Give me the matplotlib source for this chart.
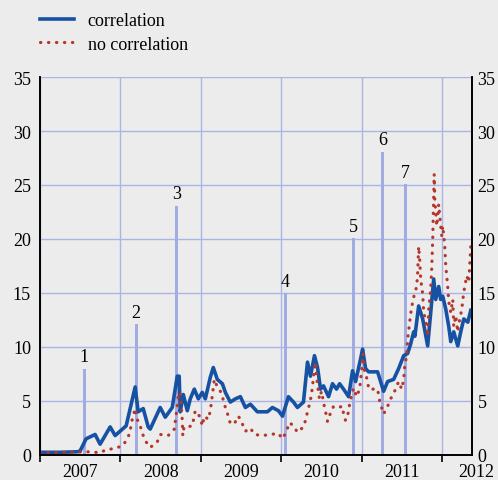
import numpy as np
import matplotlib
matplotlib.use("Agg")
import matplotlib.pyplot as plt
import matplotlib.transforms as mtransforms

plt.rcParams['font.family'] = ['Liberation Serif', 'DejaVu Serif']

# correlation series (decimal year offset from 2007, value)
corr_t = [0.0, 0.25, 0.47, 0.50, 0.573, 0.685, 0.747, 0.872, 0.934, 1.071, 1.183, 1.220,
          1.283, 1.345, 1.370, 1.494, 1.557, 1.644, 1.706, 1.730, 1.743, 1.781, 1.831,
          1.868, 1.918, 1.968, 2.017, 2.055, 2.117, 2.154, 2.204, 2.267, 2.304, 2.366,
          2.428, 2.491, 2.553, 2.615, 2.665, 2.702, 2.827, 2.889, 2.964, 3.014, 3.088,
          3.151, 3.200, 3.275, 3.325, 3.362, 3.412, 3.450, 3.487, 3.524, 3.587, 3.636,
          3.686, 3.724, 3.773, 3.836, 3.885, 3.923, 3.985, 4.010, 4.047, 4.085, 4.197,
          4.271, 4.321, 4.396, 4.458, 4.521, 4.570, 4.608, 4.645, 4.660, 4.707, 4.757,
          4.819, 4.857, 4.894, 4.919, 4.956, 4.981, 5.006, 5.044, 5.081, 5.106, 5.143,
          5.193, 5.230, 5.268, 5.318, 5.355]
corr_v = [0.25, 0.25, 0.3, 0.4, 1.5, 1.9, 1.0, 2.6, 1.8, 2.7, 6.3, 4.0,
          4.3, 2.6, 2.4, 4.4, 3.5, 4.4, 7.3, 7.3, 4.0, 5.6, 4.1,
          5.2, 6.1, 5.2, 5.8, 5.2, 7.2, 8.1, 7.0, 6.6, 5.8, 4.9,
          5.2, 5.4, 4.4, 4.7, 4.3, 4.0, 4.0, 4.4, 4.1, 3.6, 5.4,
          4.9, 4.4, 4.9, 8.6, 7.3, 9.2, 8.1, 6.1, 6.4, 5.4, 6.6,
          6.1, 6.6, 6.1, 5.4, 7.8, 6.8, 8.9, 9.8, 8.0, 7.7, 7.7,
          5.9, 6.8, 7.0, 8.0, 9.2, 9.4, 10.3, 11.4, 11.0, 13.8, 12.6,
          10.1, 13.2, 16.3, 14.4, 15.6, 14.4, 14.7, 13.5, 11.9, 10.5, 11.4,
          10.1, 11.4, 12.6, 12.3, 13.4]

# no correlation series
nocorr_t = [0.0, 0.635, 0.747, 0.822, 0.934, 1.034, 1.083, 1.121, 1.133, 1.183, 1.196,
            1.245, 1.283, 1.320, 1.370, 1.457, 1.494, 1.594, 1.669, 1.694, 1.706, 1.719,
            1.743, 1.768, 1.775, 1.790, 1.831, 1.893, 1.930, 1.993, 2.017, 2.042, 2.092,
            2.117, 2.142, 2.167, 2.204, 2.242, 2.267, 2.304, 2.341, 2.366, 2.416, 2.466,
            2.503, 2.553, 2.615, 2.665, 2.765, 2.864, 2.964, 3.014, 3.064, 3.101, 3.151,
            3.200, 3.275, 3.300, 3.325, 3.350, 3.375, 3.387, 3.412, 3.425, 3.437, 3.462,
            3.474, 3.499, 3.537, 3.562, 3.574, 3.611, 3.649, 3.699, 3.761, 3.773, 3.798,
            3.836, 3.848, 3.873, 3.898, 3.935, 3.973, 4.000, 4.015, 4.035, 4.072, 4.085,
            4.197, 4.222, 4.259, 4.271, 4.321, 4.359, 4.408, 4.458, 4.496, 4.521, 4.533,
            4.558, 4.570, 4.595, 4.608, 4.633, 4.645, 4.682, 4.695, 4.707, 4.720, 4.732,
            4.757, 4.770, 4.795, 4.819, 4.832, 4.857, 4.869, 4.882, 4.890, 4.900, 4.907,
            4.932, 4.944, 4.956, 4.981, 4.994, 5.006, 5.031, 5.044, 5.068, 5.081, 5.106,
            5.131, 5.143, 5.168, 5.193, 5.205, 5.243, 5.268, 5.305, 5.330, 5.355]
nocorr_v = [0.2, 0.3, 0.2, 0.5, 0.6, 0.9, 1.5, 2.1, 2.9, 4.3, 3.5,
            2.7, 1.8, 1.2, 0.7, 1.2, 1.9, 1.8, 2.4, 3.8, 4.5, 5.5,
            5.8, 3.3, 1.8, 2.6, 2.6, 2.7, 4.1, 3.5, 2.7, 3.6, 3.3,
            4.1, 5.5, 7.0, 6.3, 5.9, 5.4, 4.4, 3.6, 2.9, 2.9, 3.6,
            3.1, 2.2, 2.5, 1.9, 1.8, 1.9, 2.0, 1.5, 2.2, 3.0, 2.7,
            2.1, 2.6, 3.2, 4.0, 4.7, 5.6, 6.4, 8.0, 8.6, 7.3, 5.8,
            5.2, 5.9, 4.4, 3.6, 3.1, 3.9, 4.5, 4.4, 4.5, 3.8, 3.2,
            4.0, 4.7, 5.5, 6.2, 5.4, 6.1, 8.0, 9.4, 7.7, 6.9, 6.1,
            6.1, 5.0, 4.1, 3.8, 4.5, 5.2, 5.9, 6.8, 6.1, 7.0, 8.2,
            9.2, 10.7, 12.3, 13.1, 14.2, 14.6, 15.6, 16.9, 19.3, 18.1, 16.3,
            14.9, 13.2, 12.4, 11.0, 13.5, 15.4, 17.2, 20.0, 22.8, 26.0, 23.7,
            21.2, 22.1, 23.2, 21.2, 20.3, 21.2, 19.4, 17.5, 15.6, 14.2, 13.2,
            14.4, 11.9, 12.9, 11.4, 12.1, 13.5, 15.1, 16.6, 16.0, 19.3]

# event markers
event_labels = ['1', '2', '3', '4', '5', '6', '7']
event_t = [0.548, 1.196, 1.694, 3.051, 3.898, 4.259, 4.545]
event_h = [8.0, 12.1, 23.1, 15.0, 20.1, 28.1, 25.1]

years = [2007, 2008, 2009, 2010, 2011, 2012]

bg = '#ececec'
fig = plt.figure(figsize=(4.98, 4.81), dpi=100, facecolor=bg)
ax = fig.add_axes([40 / 498, 1 - 456 / 481, 432 / 498, 378 / 481], facecolor=bg)

x_c = 2007 + np.array(corr_t)
x_n = 2007 + np.array(nocorr_t)
x_e = 2007 + np.array(event_t)

ax.bar(x_e, event_h, width=0.038, color='#a0ace2', zorder=2)
for xe, h, lab in zip(x_e, event_h, event_labels):
    ax.text(xe, h + 0.3, lab, ha='center', va='bottom', fontsize=13, zorder=5)

ax.plot(x_c, corr_v, color='#1652a3', lw=2.6, label='correlation', zorder=3,
        solid_joinstyle='round')
ax.plot(x_n, nocorr_v, color='#b5372c', lw=2.3, linestyle=(0, (0.1, 2.4)),
        dash_capstyle='round', label='no correlation', zorder=4)

ax.set_xlim(2007, 2012.37)
ax.set_ylim(0, 35)
ax.set_yticks(np.arange(0, 36, 5))
ax.set_xticks(years)
ax.set_xticklabels([])
ax.grid(True, color='#aab4e6', lw=1.0, zorder=1)
ax.set_axisbelow(True)

ax.tick_params(axis='y', length=0, labelsize=13, pad=6.5)
ax.tick_params(axis='x', direction='out', length=5, width=1.2, color='black')

# right-hand copy of the value axis
ax2 = ax.twinx()
ax2.set_ylim(0, 35)
ax2.set_yticks(np.arange(0, 36, 5))
ax2.tick_params(axis='y', length=0, labelsize=13, pad=4)
for a in (ax, ax2):
    a.spines['top'].set_visible(False)
    for s in ['left', 'right', 'bottom']:
        a.spines[s].set_color('black')
        a.spines[s].set_linewidth(1.2)

# year labels centered within each year
trans = mtransforms.blended_transform_factory(ax.transData, ax.transAxes)
for yr in years:
    ax.text(min(yr + 0.5, 2012.42), -0.02, str(yr), transform=trans, ha='center',
            va='top', fontsize=13, clip_on=False)

fig.legend(handles=ax.get_lines(), loc='upper left', bbox_to_anchor=(0.058, 0.995),
           frameon=False, fontsize=13, handlelength=1.9, handletextpad=0.75,
           labelspacing=0.35, borderaxespad=0.2)

fig.savefig('out.png', dpi=100, facecolor=bg)
